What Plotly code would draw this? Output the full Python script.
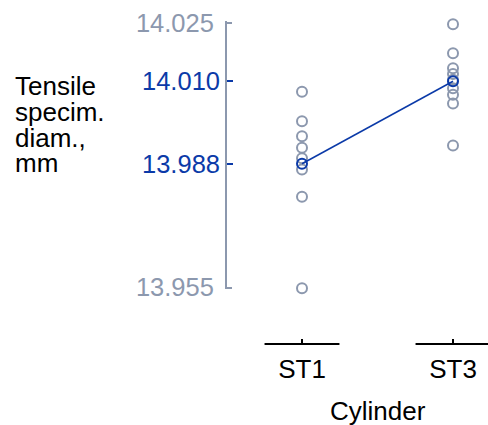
import plotly.graph_objects as go
import numpy as np

categories = ["ST1", "ST3"]
st1_values = [14.0068, 13.9990, 13.9950, 13.9920, 13.9892, 13.9862, 13.9790, 13.9548]
st3_values = [14.0247, 14.0170, 14.0130, 14.0115, 14.0100, 14.0077, 14.0060, 14.0037, 13.9926]
end_ticks = [13.955, 14.025]
series = [st1_values, st3_values]

GRAY = "#8c98ae"
BLUE = "#0b3aa8"
FONT = "Liberation Sans, Arial, sans-serif"
FS = 26
FS_TICK = 25.5

W, H = 488, 425
px_per_val = 3771.0
y_top_px = 23.0          # pixel of 14.025
y_bottom_px = 287.5      # pixel of 13.955
ext_top, ext_bot = 2.0, 1.5  # axis line extends slightly past end ticks
y_range = [end_ticks[0] - ext_bot / px_per_val, end_ticks[1] + ext_top / px_per_val]

L, R, B = 227, 0, 81
T = y_top_px - ext_top
plot_w = W - L - R
plot_h = H - T - B
ydom0 = (H - B - (y_bottom_px + ext_bot)) / plot_h

xidx = list(range(len(categories)))
means = [float(np.mean(v)) for v in series]

fig = go.Figure()
for i, vals in enumerate(series):
    fig.add_trace(go.Scatter(
        x=[xidx[i]] * len(vals), y=vals, mode="markers",
        marker=dict(symbol="circle-open", size=10, color=GRAY, line=dict(width=2, color=GRAY)),
        cliponaxis=False, showlegend=False, hoverinfo="y"))
fig.add_trace(go.Scatter(
    x=xidx, y=means, mode="lines+markers",
    line=dict(color=BLUE, width=1.5),
    marker=dict(symbol="circle-open", size=10, color=BLUE, line=dict(width=2, color=BLUE)),
    cliponaxis=False, showlegend=False, yaxis="y2"))

px_per_unit = 151.0
x0 = -75.0 / px_per_unit
x1 = x0 + plot_w / px_per_unit

fig.update_layout(
    width=W, height=H,
    margin=dict(l=L, r=R, t=T, b=B, pad=0),
    paper_bgcolor="white", plot_bgcolor="white",
    font=dict(family=FONT, size=FS, color="black"),
    xaxis=dict(range=[x0, x1], tickvals=xidx, ticktext=categories,
               anchor="free", position=0, showline=False, showgrid=False, zeroline=False,
               ticks="inside", ticklen=5, tickwidth=1.5, tickcolor="black",
               ticklabelstandoff=7,
               tickfont=dict(size=FS, color="black", family=FONT)),
    yaxis=dict(range=y_range, domain=[ydom0, 1], tickvals=end_ticks,
               ticktext=[f"{v:.3f}" for v in end_ticks],
               showline=True, linecolor=GRAY, linewidth=2,
               ticks="inside", ticklen=5, tickwidth=2, tickcolor=GRAY,
               showgrid=False, zeroline=False, ticklabelstandoff=6,
               tickfont=dict(size=FS_TICK, color=GRAY, family=FONT)),
    yaxis2=dict(range=y_range, domain=[ydom0, 1], overlaying="y", side="left",
                anchor="x", tickvals=means, ticktext=[f"{v:.3f}" for v in means],
                showline=False, ticks="inside", ticklen=6, tickwidth=2, tickcolor=BLUE,
                showgrid=False, zeroline=False, ticklabelstandoff=6,
                tickfont=dict(size=FS_TICK, color=BLUE, family=FONT)),
)

for i in xidx:
    fig.add_shape(type="line", xref="x", yref="paper", x0=i - 0.248, x1=i + 0.248,
                  y0=0, y1=0, line=dict(color="black", width=2))

fig.add_annotation(text="Cylinder", xref="x", yref="paper", x=float(np.mean(xidx)),
                   y=-(411 - (H - B)) / plot_h, yanchor="middle", xanchor="center",
                   showarrow=False, font=dict(size=FS, color="black", family=FONT))

title_lines = ["Tensile", "specim.", "diam.,", "mm"]
line_centers_px = [86, 112, 138, 163]
for txt, cy in zip(title_lines, line_centers_px):
    fig.add_annotation(text=txt, xref="paper", yref="paper",
                       x=(13 - L) / plot_w, y=1 - (cy - T) / plot_h,
                       xanchor="left", yanchor="middle", showarrow=False,
                       font=dict(size=FS, color="black", family=FONT))

fig.write_html("out.html")
